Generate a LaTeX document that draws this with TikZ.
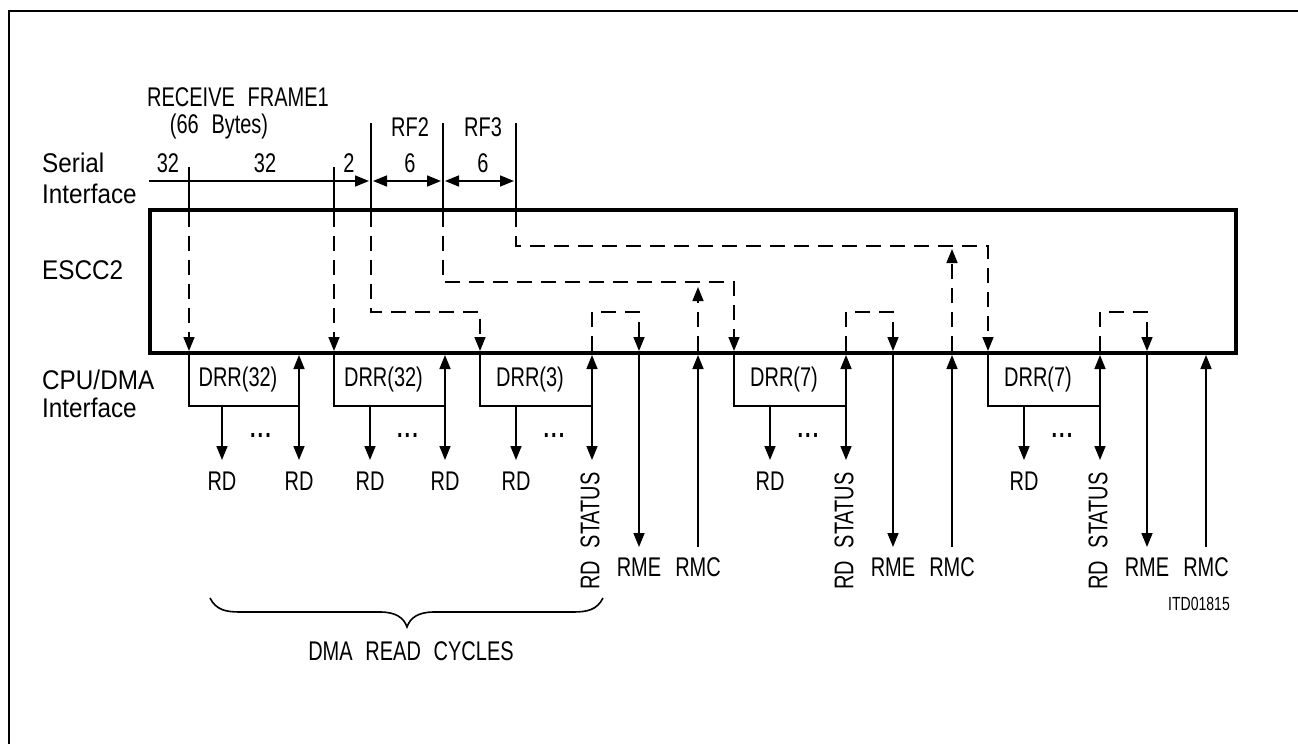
\documentclass[tikz,border=0pt]{standalone}
\usepackage{fontspec}
\setmainfont{Liberation Sans}[FakeStretch=0.74,WordSpace=2.3]
\newfontfamily\widelbl{Liberation Sans}[FakeStretch=0.9]
\usetikzlibrary{arrows.meta}
\begin{document}
\begin{tikzpicture}[x=1pt,y=-1pt,
  ln/.style={line width=1.6pt},
  dsh/.style={line width=1.6pt, dash pattern=on 15pt off 9pt},
  tipe/.style={-{Triangle[length=14pt,width=11pt]}},
  tipb/.style={{Triangle[length=14pt,width=11pt]}-{Triangle[length=14pt,width=11pt]}},
  lbl/.style={font=\fontsize{27}{30}\selectfont, inner sep=0pt},
  side/.style={font=\fontsize{27}{30}\selectfont\widelbl, inner sep=0pt, anchor=west},
  small/.style={font=\fontsize{19}{21}\selectfont, inner sep=0pt},
]
\useasboundingbox (0,0) rectangle (1298,744);
% outer frame
\draw[line width=2pt] (9,744) -- (9,11) -- (1298,11);
% ESCC2 box
\draw[line width=4.5pt] (150,210) rectangle (1236,353);

% left labels
\node[side] (ser) at (42,163) {Serial};
\node[side] (sint) at (42,194) {Interface};
\node[side] (esc) at (42,270) {ESCC2};
\node[side] (cpu) at (42,380) {CPU/DMA};
\node[side] (cint) at (42,408) {Interface};

% top labels
\node[lbl] (rf1) at (238,97) {RECEIVE FRAME1};
\node[lbl] (b66) at (219,127) {(66 Bytes)};
\node[lbl] (rf2) at (410,127) {RF2};
\node[lbl] (rf3) at (483,127) {RF3};
\node[lbl] (n32a) at (168,163) {32};
\node[lbl] (n32b) at (265,163) {32};
\node[lbl] (n2) at (349,163) {2};
\node[lbl] (n6a) at (410,163) {6};
\node[lbl] (n6b) at (483,163) {6};

% serial interface lines
\draw[ln] (189,167) -- (189,212);
\draw[ln] (334,167) -- (334,212);
\draw[ln] (371,123) -- (371,212);
\draw[ln] (443,123) -- (443,212);
\draw[ln] (516,123) -- (516,212);
\draw[ln,tipe] (149,181) -- (369,181);
\draw[ln,tipb] (373,181) -- (441,181);
\draw[ln,tipb] (445,181) -- (514,181);

% dashed paths inside ESCC2
\draw[dsh,tipe] (189,212) -- (189,351);
\draw[dsh,tipe] (334,212) -- (334,351);
\draw[dsh,tipe] (371,212) -- (371,312) -- (480,312) -- (480,351);
\draw[dsh,tipe] (443,212) -- (443,282) -- (734,282) -- (734,351);
\draw[dsh,tipe] (516,212) -- (516,246) -- (988,246) -- (988,351);
\draw[dsh,tipe] (698,351) -- (698,287);
\draw[dsh,tipe] (952,351) -- (952,249);

% DRR blocks
\foreach \n/\L/\d/\R/\t in {1/189/222/299/32, 2/334/370/445/32, 3/480/516/592/3, 4/734/770/846/7, 5/988/1024/1100/7}{
  \draw[ln] (\L,353) -- (\L,406) -- (\R,406);
  \draw[ln,tipb] (\R,355) -- (\R,460);
  \draw[ln,tipe] (\d,406) -- (\d,460);
  \node[lbl] (drr\n) at ({(\L+\R)/2-6},380) {DRR(\t)};
  \node[lbl,anchor=base] (dots\n) at ({(\d+\R)/2},437) {\bfseries .\hspace{2pt}.\hspace{2pt}.};
  \node[lbl] (rd\n) at (\d,481) {RD};
}
\node[lbl] (rd1b) at (299,481) {RD};
\node[lbl] (rd2b) at (445,481) {RD};

% status / RME / RMC
\foreach \n/\S/\E/\C in {3/592/639/698, 4/846/893/952, 5/1100/1147/1206}{
  \node[lbl,rotate=90] (st\n) at (\S-2,531) {RD STATUS};
  \draw[dsh,tipe] (\S,351) -- (\S,312) -- (\E,312) -- (\E,351);
  \draw[ln,tipe] (\E,355) -- (\E,547);
  \draw[ln,tipe] (\C,547) -- (\C,355);
  \node[lbl] (rme\n) at (\E,567) {RME};
  \node[lbl] (rmc\n) at (\C,567) {RMC};
}

\node[small] (itd) at (1199,604) {ITD01815};

% brace
\draw[ln] (210,598) .. controls (216,610) and (226,612) .. (240,612)
  -- (380,612) .. controls (396,612) and (404,618) .. (407,627)
  .. controls (410,618) and (418,612) .. (434,612)
  -- (573,612) .. controls (587,612) and (597,610) .. (603,598);
\node[lbl] (dma) at (411,651) {DMA READ CYCLES};
\end{tikzpicture}
\end{document}
